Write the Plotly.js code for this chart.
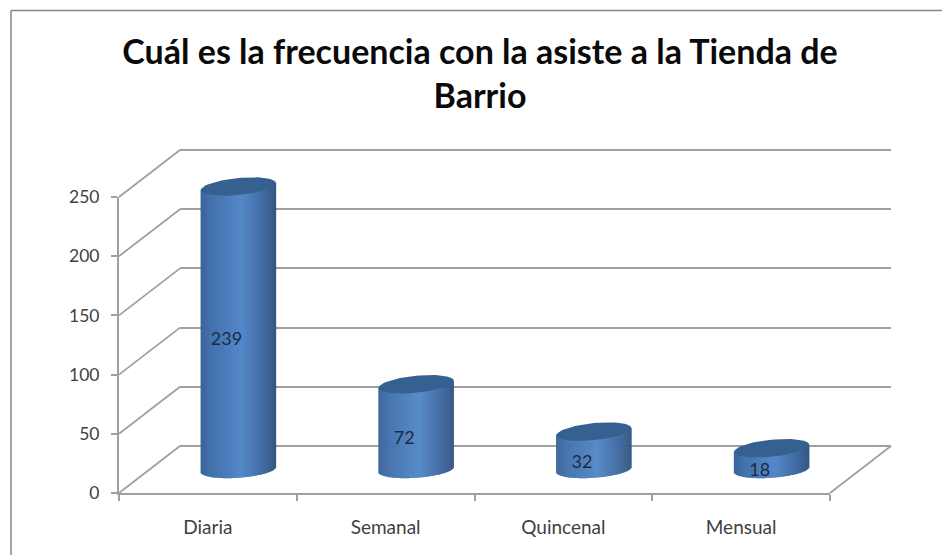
<!DOCTYPE html>
<html>
<head>
<meta charset="utf-8">
<script src="https://cdn.plot.ly/plotly-3.0.1.min.js"></script>
<style>html,body{margin:0;padding:0;background:#fff}#c{width:942px;height:555px}</style>
</head>
<body>
<div id="c"></div>
<script>
const categories = ["Diaria", "Semanal", "Quincenal", "Mensual"];
const values = [239, 72, 32, 18];
const yTicks = [0, 50, 100, 150, 200, 250];
const titleText = "Cuál es la frecuencia con la asiste a la Tienda de<br>Barrio";

const W = 942, H = 555;
const GRID = "#a0a0a0";
const FONT = "Lato, 'Noto Sans', sans-serif";
const px = x => x / W, py = y => 1 - y / H;

// 3D projection: front plane, and the depth offset of the back wall
const front = {l: 119, r: 830, y0: 493, y250: 197};
const depth = {dx: 61, dy: -47};
const unit = (front.y0 - front.y250) / 250;

function plane(f) { // f = 0 front, .5 middle, 1 back; returns domains with padded y range
  const pad = 20;
  const y0 = front.y0 + depth.dy * f;
  return {
    x: [px(front.l + depth.dx * f), px(front.r + depth.dx * f)],
    y: [py(y0 + pad * unit), py(y0 - (250 + pad) * unit)],
    range: [-pad, 250 + pad]
  };
}
const back = plane(1), mid = plane(0.5);

// Cylinder geometry in axis units
const halfW = 37.5 / ((front.r - front.l) / 4);
const ry = 7.2, tilt = 3.0, tiltB = 2.2, ryB = 7.0;
const N = 75;

function mix(a, b, t) { return a.map((v, i) => Math.round(v + (b[i] - v) * t)); }
function shade(t) {
  const stops = [[0, [60, 100, 155]], [0.15, [68, 115, 174]], [0.55, [84, 136, 200]], [0.85, [64, 105, 160]], [1, [54, 87, 130]]];
  for (let i = 1; i < stops.length; i++) {
    if (t <= stops[i][0]) {
      const c = mix(stops[i - 1][1], stops[i][1], (t - stops[i - 1][0]) / (stops[i][0] - stops[i - 1][0]));
      return `rgb(${c.join(",")})`;
    }
  }
  return "rgb(54,87,130)";
}

const sx = [], sBase = [], sTop = [], sColor = [];
values.forEach((v, i) => {
  for (let k = 0; k < N; k++) {
    const u = (k + 0.5) / N * 2 - 1;
    const low = -ryB * Math.sqrt(1 - u * u) + tiltB * u;
    sx.push(i + u * halfW);
    sBase.push(low);
    sTop.push(v + tilt * u - low);
    sColor.push(shade((u + 1) / 2));
  }
});

const traces = [];
// back wall subplot (gridlines only)
traces.push({x: [0], y: [0], type: "scatter", mode: "none", xaxis: "x", yaxis: "y", hoverinfo: "skip", showlegend: false});
// cylinder bodies
traces.push({
  type: "bar", x: sx, y: sTop, base: sBase, width: 2 * halfW / N * 1.6,
  marker: {color: sColor, line: {width: 0}}, xaxis: "x2", yaxis: "y2", hoverinfo: "skip", showlegend: false
});
// cylinder tops
values.forEach((v, i) => {
  const ex = [], ey = [];
  for (let a = 0; a <= 72; a++) {
    const t = a / 72 * 2 * Math.PI;
    ex.push(i + halfW * Math.cos(t));
    ey.push(v + ry * Math.sin(t) + tilt * Math.cos(t));
  }
  traces.push({
    x: ex, y: ey, type: "scatter", mode: "lines", fill: "toself", fillcolor: "#36608f",
    line: {width: 0, color: "#36608f"}, xaxis: "x2", yaxis: "y2", hoverinfo: "skip", showlegend: false
  });
});
// data labels
traces.push({
  x: values.map((v, i) => i - 0.067), y: values.map(v => v / 2 - 8.6 - 2.3),
  text: values.map(String), type: "scatter", mode: "text", textposition: "middle center",
  textfont: {family: FONT, size: 18, color: "#1c2b45"},
  xaxis: "x2", yaxis: "y2", hoverinfo: "skip", showlegend: false
});
// front axes
traces.push({
  x: categories, y: values, type: "scatter", mode: "none",
  xaxis: "x3", yaxis: "y3", hoverinfo: "skip", showlegend: false
});

// Depth lines from the front axis to the back wall, and the frame
const line = (x0, y0, x1, y1, w, c) => ({
  type: "line", xref: "paper", yref: "paper", layer: "below",
  x0: px(x0), y0: py(y0), x1: px(x1), y1: py(y1), line: {color: c || GRID, width: w || 1.8}
});
const shapes = yTicks.map(t => {
  const y = front.y0 - t * unit;
  return line(front.l, y, front.l + depth.dx, y + depth.dy);
});
shapes.push(line(front.r, front.y0, front.r + depth.dx, front.y0 + depth.dy));
shapes.push(line(11, H, 11, 10.5, 1.5, "#858585"));
shapes.push(line(11, 10.5, W, 10.5, 1.5, "#858585"));

const tickFont = {family: FONT, size: 17.5, color: "#3f3f3f"};
const catFont = {family: FONT, size: 19, color: "#3f3f3f"};
const layout = {
  width: W, height: H, margin: {l: 0, r: 0, t: 0, b: 0},
  paper_bgcolor: "#fff", plot_bgcolor: "rgba(0,0,0,0)", showlegend: false, shapes,
  title: {
    text: titleText, x: 480 / W, xanchor: "center", y: 1 - 64 / H, yanchor: "bottom",
    font: {family: FONT, size: 34, color: "#0a0a0a", weight: 700}
  },
  xaxis: {domain: back.x, range: [-0.5, 3.5], anchor: "y", visible: false, showgrid: false, zeroline: false},
  yaxis: {domain: back.y, range: back.range, anchor: "x", tickmode: "array", tickvals: yTicks, showticklabels: false,
    ticks: "", showline: false, showgrid: true, gridcolor: GRID, gridwidth: 2, zeroline: false},
  xaxis2: {domain: mid.x, range: [-0.5, 3.5], anchor: "y2", visible: false, showgrid: false, zeroline: false},
  yaxis2: {domain: mid.y, range: mid.range, anchor: "x2", visible: false, showgrid: false, zeroline: false},
  xaxis3: {domain: [px(front.l), px(front.r)], type: "category", categoryarray: categories, categoryorder: "array",
    range: [-0.5, 3.5], anchor: "y3", tickson: "boundaries", ticks: "outside", ticklen: 6, tickcolor: GRID, tickwidth: 2,
    showline: true, linecolor: GRID, linewidth: 2, showgrid: false, zeroline: false, tickfont: catFont, ticklabelstandoff: 16},
  yaxis3: {domain: [py(front.y0), py(front.y250)], range: [0, 250], anchor: "x3", tickmode: "array", tickvals: yTicks,
    ticks: "outside", ticklen: 6, tickcolor: GRID, tickwidth: 2, showline: true, linecolor: GRID, linewidth: 2,
    showgrid: false, zeroline: false, tickfont: tickFont, ticklabelstandoff: 8}
};
Plotly.newPlot("c", traces, layout, {displayModeBar: false, staticPlot: true});
</script>
</body>
</html>
